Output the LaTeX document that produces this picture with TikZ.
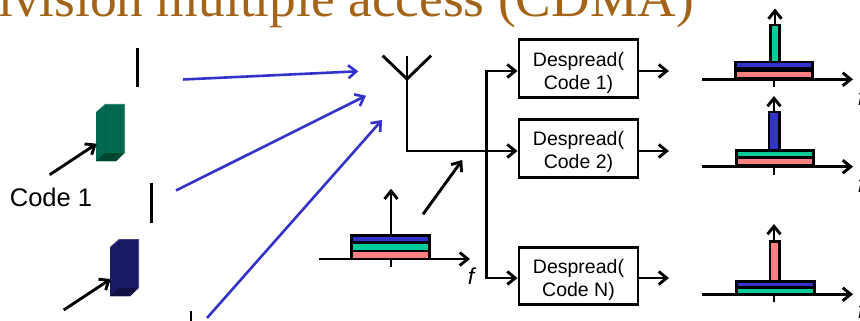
\documentclass[tikz,border=0pt]{standalone}
\usepackage{fontspec}
\setmainfont{Liberation Sans}
\newfontfamily\titlefont{Liberation Serif}
\usetikzlibrary{arrows.meta}
\definecolor{titlebrown}{RGB}{163,100,24}
\definecolor{sigblue}{RGB}{51,51,204}
\definecolor{siggreen}{RGB}{0,204,153}
\definecolor{sigred}{RGB}{255,128,128}
\definecolor{codegreen}{RGB}{0,105,80}
\definecolor{codeblue}{RGB}{25,25,102}
\tikzset{
  x=1pt,y=-1pt,
  conn/.style={line width=2.9pt,-{Straight Barb[length=8pt,width=13pt,line width=2.9pt]},black},
  plainln/.style={line width=2.9pt,black},
  air/.style={line width=2.6pt,-{Straight Barb[length=8pt,width=13pt,line width=2.6pt]},sigblue},
  dsp/.style={draw=black,line width=2.9pt,fill=white,minimum width=119pt,minimum height=57.5pt,inner sep=0pt,align=center,font=\fontsize{19.5}{23}\selectfont},
  band/.style={draw=black,line width=2.9pt},
  lab/.style={inner sep=0pt,font=\fontsize{25.5}{28}\selectfont},
  flab/.style={inner sep=0pt,font=\fontsize{23}{25}\itshape\selectfont},
}
\newcommand{\dsptext}[2]{\rule{0pt}{22pt}#1\\#2}
\newcommand{\codeblock}[4]{% x,y offset, main colour, dark colour
  \begin{scope}[shift={(#1,#2)}]
    \fill[#3!72!white] (96,112) -- (105,104) -- (125,104) -- (125,153) -- (116,161) -- (96,161) -- cycle;
    \fill[#3] (96,112.5) -- (105.5,104.7) -- (124.2,104.7) -- (124.2,153) -- (116,161) -- (96,161) -- cycle;
    \fill[#4] (96,161) -- (105,153) -- (124.2,153) -- (116,161) -- cycle;
    \draw[#3!90!black,line width=.4pt] (105.5,104.7) -- (105.5,153);
  \end{scope}
}
\begin{document}
\begin{tikzpicture}
\useasboundingbox (0,0) rectangle (860,321);
\clip (0,0) rectangle (860,321);

% title (cropped by the frame)
\node[anchor=base west,inner sep=0pt,text=titlebrown,font=\titlefont\fontsize{53.4}{55}\selectfont] (title) at (-2,17) {ivision multiple access (CDMA)};

% pulses
\coordinate (p1a) at (137.3,47.7); \coordinate (p1b) at (137.3,87.3);
\coordinate (p2a) at (151.5,183); \coordinate (p2b) at (151.5,222.5);
\coordinate (p3a) at (191,311); \coordinate (p3b) at (191,330);
\draw[plainln] (p1a) -- (p1b);
\draw[plainln] (p2a) -- (p2b);
\draw[plainln] (p3a) -- (p3b);

% code blocks
\codeblock{0}{0}{codegreen}{codegreen!65!black}
\codeblock{14}{135}{codeblue}{codeblue!65!black}

% code labels
\node[lab] (c1) at (51,197) {Code 1};
\node[lab] (c2) at (65,332) {Code 2};
\coordinate (c1s) at (49.7,174.7); \coordinate (c1e) at (96.7,143.7);
\coordinate (c2s) at (63.7,310); \coordinate (c2e) at (110.7,279);
\draw[conn] (c1s) -- (c1e);
\draw[conn] (c2s) -- (c2e);

% signals in the air
\coordinate (a1s) at (183,79.5); \coordinate (a1e) at (358.3,71.3);
\coordinate (a2s) at (176,190.5); \coordinate (a2e) at (366,95.7);
\coordinate (a3s) at (207,318); \coordinate (a3e) at (382,120);
\draw[air] (a1s) -- (a1e);
\draw[air] (a2s) -- (a2e);
\draw[air] (a3s) -- (a3e);

% despreaders
\node[dsp] (d1) at (578.5,68.7) {\dsptext{Despread(}{Code 1)}};
\node[dsp] (d2) at (578.5,148.3) {\dsptext{Despread(}{Code 2)}};
\node[dsp] (d3) at (578.5,276) {\dsptext{Despread(}{Code N)}};

% antenna
\coordinate (antL) at (382.7,55.7); \coordinate (antR) at (431,55.7);
\coordinate (antT) at (407,55.7); \coordinate (antJ) at (407,79);
\coordinate (antB) at (407,151); \coordinate (br) at (486.7,151);
\draw[plainln] (antL) -- (antJ) -- (antR);
\draw[plainln,line join=miter] (antT) -- (antB) -- (br);
\draw[conn] (br) -- (br -| d2.west);
\coordinate (brT) at (486.7,71); \coordinate (brB) at (486.7,278);
\draw[conn] (br) -- (brT) -- (brT -| d1.west);
\draw[conn] (br) -- (brB) -- (brB -| d3.west);
\coordinate (ms) at (423,214.3); \coordinate (me) at (462.3,160);
\draw[conn] (ms) -- (me);

% outputs
\coordinate (o1) at (669,71); \coordinate (o2) at (669,151); \coordinate (o3) at (669,278);
\draw[conn] (o1 -| d1.east) -- (o1);
\draw[conn] (o2 -| d2.east) -- (o2);
\draw[conn] (o3 -| d3.east) -- (o3);

% received spectrum
\coordinate (s0l) at (319,259); \coordinate (s0r) at (470,259);
\coordinate (s0b) at (391,267); \coordinate (s0m) at (391,235.5); \coordinate (s0t) at (391,188.7);
\draw[plainln] (s0m) -- (s0b);
\draw[band,fill=sigred] (351.3,251) rectangle (429.5,259);
\draw[band,fill=siggreen] (351.3,242.7) rectangle (429.5,251);
\draw[band,fill=sigblue] (351.3,235.5) rectangle (429.5,242.7);
\draw[conn] (s0l) -- (s0r);
\draw[conn] (s0m) -- (s0t);
\node[flab] (f0) at (471,276.5) {f};

% output spectrum 1
\coordinate (s1l) at (702,79.3); \coordinate (s1r) at (853,79.3);
\coordinate (s1b) at (774,87); \coordinate (s1c) at (774,79.3); \coordinate (s1m) at (775,25); \coordinate (s1t) at (775,8.5);
\draw[plainln] (s1c) -- (s1b);
\draw[band,fill=sigred] (735.2,70.5) rectangle (812.8,78);
\draw[band,fill=sigblue] (735.2,62) rectangle (812.8,68.5);
\draw[band,fill=siggreen] (770.3,25) rectangle (779.7,62);
\draw[conn] (s1l) -- (s1r);
\draw[conn] (s1m) -- (s1t);
\node[flab] (f1) at (861,97.5) {f};

% output spectrum 2
\coordinate (s2l) at (702,166.7); \coordinate (s2r) at (853,166.7);
\coordinate (s2b) at (774,174.5); \coordinate (s2c) at (774,166.7); \coordinate (s2m) at (774,112); \coordinate (s2t) at (774,96);
\draw[plainln] (s2c) -- (s2b);
\draw[band,fill=sigred] (736.2,157.5) rectangle (813.8,165);
\draw[band,fill=siggreen] (736.2,150.5) rectangle (813.8,157.5);
\draw[band,fill=sigblue] (769,112) rectangle (779.5,150.5);
\draw[conn] (s2l) -- (s2r);
\draw[conn] (s2m) -- (s2t);
\node[flab] (f2) at (861,184.5) {f};

% output spectrum N
\coordinate (s3l) at (702,294.3); \coordinate (s3r) at (853,294.3);
\coordinate (s3b) at (774,302); \coordinate (s3c) at (774,294.3); \coordinate (s3m) at (774,241.5); \coordinate (s3t) at (774,224);
\draw[plainln] (s3c) -- (s3b);
\draw[band,fill=siggreen] (736.2,287.7) rectangle (814.7,294.5);
\draw[band,fill=sigblue] (736.2,281.5) rectangle (814.2,287.7);
\draw[band,fill=sigred] (770,241.5) rectangle (779.2,281.5);
\draw[conn] (s3l) -- (s3r);
\draw[conn] (s3m) -- (s3t);
\node[flab] (f3) at (861,310.5) {f};
\end{tikzpicture}
\end{document}
